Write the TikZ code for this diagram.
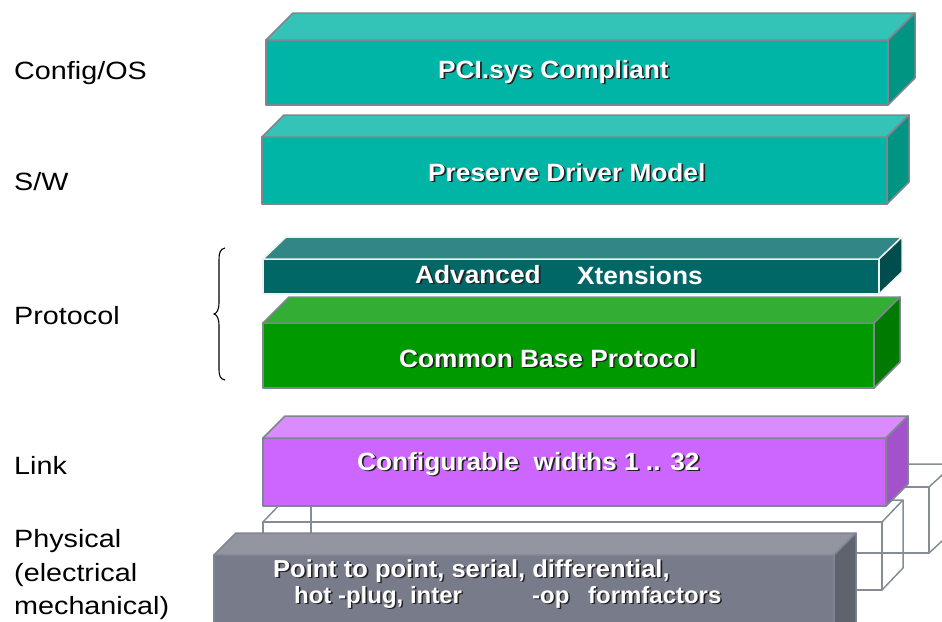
\documentclass[tikz,border=0pt]{standalone}
\usepackage{fontspec}
\setmainfont{Liberation Sans}
\usepackage{graphicx}
\definecolor{tealF}{HTML}{00B5A5}
\definecolor{tealT}{HTML}{33C4B7}
\definecolor{tealS}{HTML}{009483}
\definecolor{advF}{HTML}{006666}
\definecolor{advT}{HTML}{338686}
\definecolor{advS}{HTML}{004D4D}
\definecolor{grnF}{HTML}{009900}
\definecolor{grnT}{HTML}{33AD33}
\definecolor{grnS}{HTML}{007A00}
\definecolor{purF}{HTML}{CC66FF}
\definecolor{purT}{HTML}{D98CFF}
\definecolor{purS}{HTML}{A452CC}
\definecolor{gryF}{HTML}{787C8A}
\definecolor{gryT}{HTML}{9396A1}
\definecolor{gryS}{HTML}{5F636E}
\definecolor{edgec}{HTML}{7F8591}
\definecolor{wirec}{HTML}{868C96}
\definecolor{shadowc}{HTML}{222222}
\newcommand\sh[1]{\scalebox{1.05}[1]{\makebox[0pt][l]{\kern1.6pt\raisebox{-1.6pt}{\textcolor{shadowc}{#1}}}\textcolor{white}{#1}}}
\newcommand\shb[1]{\scalebox{1.02}[1]{\makebox[0pt][l]{\kern1.5pt\raisebox{-1.5pt}{\textcolor{shadowc}{#1}}}\textcolor{white}{#1}}}
\newcommand\shc[1]{\scalebox{1.04}[1]{\makebox[0pt][l]{\kern1.5pt\raisebox{-1.5pt}{\textcolor{shadowc}{#1}}}\textcolor{white}{#1}}}
\newcommand\nosh[1]{\scalebox{1.05}[1]{\textcolor{white}{#1}}}
\newcommand\slab[9]{%
  \node[face, draw=#9, fill=#8F, minimum width={#4-#2}, minimum height={#5-#3}, anchor=north west] (#1) at (#2,#3) {};
  \filldraw[face, draw=#9, fill=#8T] (#1.north west) -- ++(#6,#7) -- ([shift={(#6,#7)}]#1.north east) -- (#1.north east) -- cycle;
  \filldraw[face, draw=#9, fill=#8S] (#1.north east) -- ++(#6,#7) -- ([shift={(#6,#7)}]#1.south east) -- (#1.south east) -- cycle;
}
\newcommand\wirebox[7]{%
  \node[wire, minimum width={#4-#2}, minimum height={#5-#3}, anchor=north west] (#1) at (#2,#3) {};
  \draw[wire] (#1.north west) -- ++(#6,#7) -- ([shift={(#6,#7)}]#1.north east) -- ([shift={(#6,#7)}]#1.south east) -- (#1.south east);
  \draw[wire] (#1.north east) -- ++(#6,#7);
}
\begin{document}
\begin{tikzpicture}[x=1pt,y=-1pt,
  face/.style={line width=1.5pt, line join=round, inner sep=0pt, outer sep=0pt},
  wire/.style={draw=wirec, line width=1.5pt, line join=round, inner sep=0pt, outer sep=0pt},
  btext/.style={font=\fontsize{25}{30}\selectfont\bfseries, inner sep=0pt, anchor=base west},
  ptext/.style={font=\fontsize{23.5}{28}\selectfont\bfseries, inner sep=0pt, anchor=base west},
  qtext/.style={font=\fontsize{24.5}{28}\selectfont\bfseries, inner sep=0pt, anchor=base west},
  lab/.style={font=\fontsize{25}{30}\selectfont, inner sep=0pt, anchor=base west, text=black}]
\useasboundingbox (0,0) rectangle (942,621);
\clip (0,0) rectangle (942,621);
% wireframe lanes
\wirebox{w2}{311}{487}{929}{553}{25}{-23}
\wirebox{w1}{263}{522}{882}{590}{21}{-22}
% solid slabs
\slab{b1}{266}{40}{888}{105}{27}{-27}{teal}{edgec}
\slab{b2}{262}{137}{887}{204}{22}{-22}{teal}{edgec}
\slab{b4}{263}{323}{874}{388}{26}{-26}{grn}{edgec}
\slab{b3}{263}{259}{879}{294}{23}{-22}{adv}{white!88!gray}
\slab{b5}{263}{438}{886}{506}{22}{-22}{pur}{edgec}
\slab{b6}{214}{555}{834}{650}{22}{-22}{gry}{edgec}
% slab texts
\node[btext] (t1) at (438,78) {\sh{PCI.sys Compliant}};
\node[btext] (t2) at (428,181) {\sh{Preserve Driver Model}};
\node[btext] (t3a) at (415,283) {\sh{Advanced}};
\node[btext] (t3b) at (577,284) {\nosh{Xtensions}};
\node[btext] (t4) at (399,367) {\sh{Common Base Protocol}};
\node[btext] (t5) at (357,470) {\sh{Configurable\ \ widths 1 .. 32}};
\node[qtext] (t6a) at (273,577) {\shc{Point to point, serial, differential,}};
\node[ptext] (t6b) at (294,603) {\shb{hot -plug, inter}};
\node[ptext] (t6c) at (532,603) {\shb{-op}};
\node[ptext] (t6d) at (588,603) {\shb{formfactors}};
% left labels
\node[lab] (l1) at (14,79) {\scalebox{1.15}[1]{Config/OS}};
\node[lab] (l2) at (14,190) {\scalebox{1.15}[1]{S/W}};
\node[lab] (l3) at (14,324) {\scalebox{1.15}[1]{Protocol}};
\node[lab] (l4) at (14,474) {\scalebox{1.15}[1]{Link}};
\node[lab] (l5) at (14,547) {\scalebox{1.15}[1]{Physical}};
\node[lab] (l6) at (14,581) {\scalebox{1.15}[1]{(electrical}};
\node[lab] (l7) at (14,614) {\scalebox{1.15}[1]{mechanical)}};
% brace
\draw[line width=1.1pt, black] (225,248) .. controls (220,249) and (219,253) .. (219,260) -- (219,302)
  .. controls (219,310) and (217,313) .. (214,314) .. controls (217,315) and (219,318) .. (219,326)
  -- (219,368) .. controls (219,376) and (220,379) .. (225,380);
\end{tikzpicture}
\end{document}
